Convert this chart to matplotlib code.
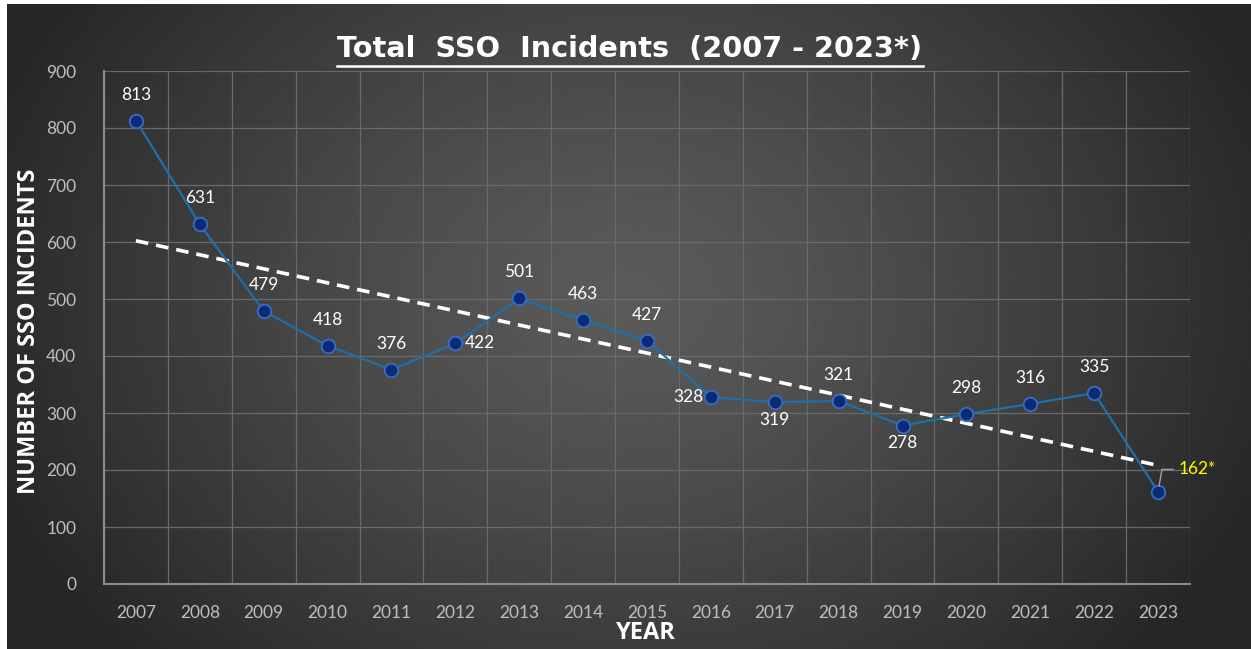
import numpy as np
import matplotlib.pyplot as plt
from matplotlib.lines import Line2D

years = [2007, 2008, 2009, 2010, 2011, 2012, 2013, 2014, 2015,
         2016, 2017, 2018, 2019, 2020, 2021, 2022, 2023]
incidents = [813, 631, 479, 418, 376, 422, 501, 463, 427,
             328, 319, 321, 278, 298, 316, 335, 162]
labels = [str(v) for v in incidents[:-1]] + ["162*"]
# where each data label sits relative to its point
label_pos = ["above", "above", "above", "above", "above", "right", "above", "above", "above",
             "left", "below", "above", "below", "above", "above", "above", "callout"]

plt.rcParams['font.family'] = ['Lato', 'DejaVu Sans']

W, H = 1251, 649
fig = plt.figure(figsize=(W / 100, H / 100), dpi=100, facecolor="white")

# radial gradient background (slight white margin on left/top as in the screenshot)
bg = fig.add_axes([7 / W, 0, 1 - 7 / W, 1 - 4 / H])
yy, xx = np.mgrid[0:300, 0:600]
cx, cy = 300, 135
r = np.sqrt(((xx - cx) / 330.0) ** 2 + ((yy - cy) / 250.0) ** 2)
r = np.clip(r, 0, 1)
shade = 0.355 - (0.355 - 0.15) * r ** 1.3
bg.imshow(shade, cmap="gray", vmin=0, vmax=1, aspect="auto", interpolation="bicubic")
bg.axis("off")

ax = fig.add_axes([104 / W, 1 - 584 / H, (1190 - 104) / W, (584 - 71) / H])
ax.patch.set_alpha(0)

x = np.arange(len(years))
ax.plot(x, incidents, color="#1f6fa8", lw=1.6, zorder=3)
ax.scatter(x, incidents, s=95, facecolor="#0b2a78", edgecolor="#3a6cc0", linewidths=1.3, zorder=4)

# linear trendline
k, b = np.polyfit(x, incidents, 1)
ax.plot(x, k * x + b, color="white", lw=2.6, ls=(0, (3.5, 2.2)), zorder=2.5)

for xi, v, t, pos in zip(x, incidents, labels, label_pos):
    kw = dict(color="white", fontsize=12.5, zorder=5)
    if pos == "above":
        ax.annotate(t, (xi, v), xytext=(0, 13), textcoords="offset points", ha="center", va="bottom", **kw)
    elif pos == "below":
        ax.annotate(t, (xi, v), xytext=(0, -7), textcoords="offset points", ha="center", va="top", **kw)
    elif pos == "right":
        ax.annotate(t, (xi, v), xytext=(7, 0), textcoords="offset points", ha="left", va="center", **kw)
    elif pos == "left":
        ax.annotate(t, (xi, v), xytext=(-5, 0), textcoords="offset points", ha="right", va="center", **kw)
    else:
        ax.annotate(t, (xi, v), xytext=(15, 16), textcoords="offset points", ha="left", va="center",
                    color="#ffff00", fontsize=12.5, zorder=5,
                    arrowprops=dict(arrowstyle="-", color="#a0a0a0", lw=1,
                                    connectionstyle="angle,angleA=0,angleB=80,rad=0",
                                    shrinkA=2, shrinkB=4))

ax.set_xlim(-0.5, len(years) - 0.5)
ax.set_ylim(0, 900)
ax.set_yticks(range(0, 901, 100))
ax.set_xticks(x)
ax.set_xticklabels(years)
ax.set_xticks(np.arange(-0.5, len(years)), minor=True)
ax.grid(True, which="minor", axis="x", color="#6a6a6a", lw=0.9)
ax.grid(True, which="major", axis="y", color="#6a6a6a", lw=0.9)
ax.set_axisbelow(True)
ax.tick_params(which="both", length=0)
ax.tick_params(axis="both", colors="#bfbfbf", labelsize=12.5)
ax.tick_params(axis="x", pad=15)
ax.tick_params(axis="y", pad=20)
for s in ["top", "right"]:
    ax.spines[s].set_visible(False)
for s in ["left", "bottom"]:
    ax.spines[s].set_color("#8c8c8c")
    ax.spines[s].set_linewidth(1.5)

fig.text(29 / W, 1 - 331 / H, "NUMBER OF SSO INCIDENTS", rotation=90, ha="center", va="center",
         color="white", fontsize=17, fontweight="bold", family=["Open Sans", "DejaVu Sans"])
fig.text(646 / W, 1 - 633 / H, "YEAR", ha="center", va="center",
         color="white", fontsize=17, fontweight="bold", family=["Open Sans", "DejaVu Sans"])

title = fig.text(630 / W, 1 - 57.5 / H, "Total  SSO  Incidents  (2007 - 2023*)", ha="center", va="baseline",
                 color="white", fontsize=20.7, fontweight="bold", family=["DejaVu Sans"])
fig.canvas.draw()
bb = title.get_window_extent(fig.canvas.get_renderer())
uy = 1 - 66 / H
fig.add_artist(Line2D([bb.x0 / W, bb.x1 / W], [uy, uy], color="white", lw=1.8))

fig.savefig("out.png", dpi=100, facecolor=fig.get_facecolor())
